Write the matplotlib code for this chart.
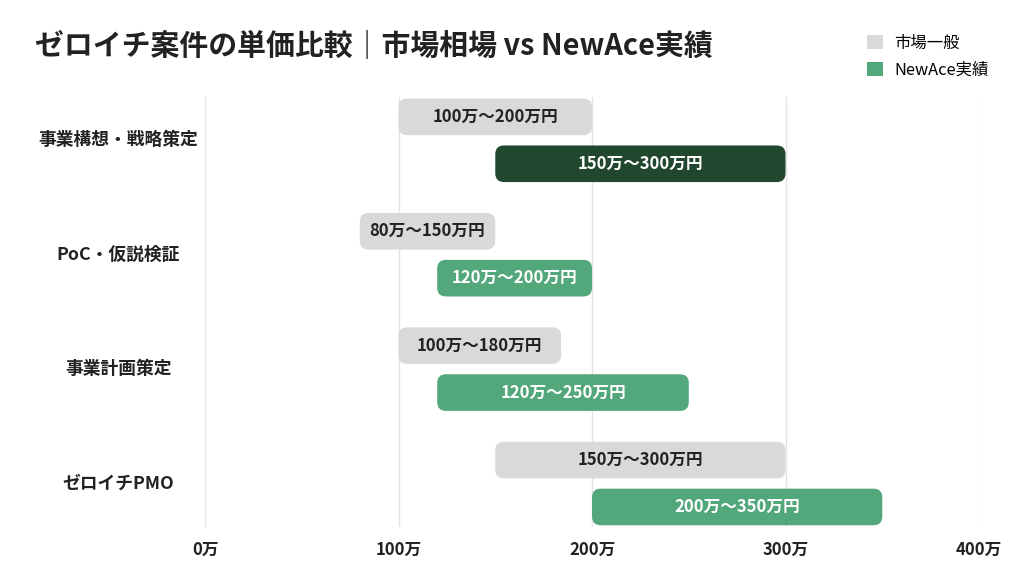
import matplotlib.pyplot as plt
from matplotlib.patches import FancyBboxPatch, Patch
from matplotlib.transforms import blended_transform_factory

plt.rcParams['font.family'] = ['Noto Sans CJK JP', 'DejaVu Sans']

categories = ['事業構想・戦略策定', 'PoC・仮説検証', '事業計画策定', 'ゼロイチPMO']
market_low = [100, 80, 100, 150]
market_high = [200, 150, 184, 300]
market_labels = ['100万〜200万円', '80万〜150万円', '100万〜180万円', '150万〜300万円']
newace_low = [150, 120, 120, 200]
newace_high = [300, 200, 250, 350]
newace_labels = ['150万〜300万円', '120万〜200万円', '120万〜250万円', '200万〜350万円']
xticks = [0, 100, 200, 300, 400]

GRAY = '#d9d9d9'
GREEN = '#52a77b'
DARK_GREEN = '#22472f'
highlight = 0  # first NewAce bar drawn in dark green

fig = plt.figure(figsize=(10.24, 5.72), dpi=100)
ax = fig.add_axes([0.2002, 0.0787, 0.7559, 0.752])
ax.set_xlim(0, 400)
ax.set_ylim(3.38, -0.38)

# px -> data unit ratio for rounded corners
x_per_px = 400 / 774
y_per_px = 3.76 / 430
aspect = y_per_px / x_per_px
bar_h = 0.32
off = 0.205


def rounded_bar(y, lo, hi, color):
    p = FancyBboxPatch((lo, y - bar_h / 2), hi - lo, bar_h,
                       boxstyle='round,pad=0,rounding_size=4.5',
                       mutation_aspect=aspect, fc=color, ec='none', zorder=3)
    ax.add_patch(p)


for i, cat in enumerate(categories):
    yg = i - off
    yn = i + off
    rounded_bar(yg, market_low[i], market_high[i], GRAY)
    ax.text((market_low[i] + market_high[i]) / 2, yg, market_labels[i],
            ha='center', va='center', fontsize=12, fontweight='bold',
            color='#222222', zorder=4)
    c = DARK_GREEN if i == highlight else GREEN
    rounded_bar(yn, newace_low[i], newace_high[i], c)
    ax.text((newace_low[i] + newace_high[i]) / 2, yn, newace_labels[i],
            ha='center', va='center', fontsize=12, fontweight='bold',
            color='white', zorder=4)

trans = blended_transform_factory(ax.transAxes, ax.transData)
for i, cat in enumerate(categories):
    ax.text(-0.112, i, cat, transform=trans, ha='center', va='center',
            fontsize=12.8, fontweight='bold', color='#222222')

ax.set_xticks(xticks)
ax.set_xticklabels([f'{v}万' for v in xticks], fontsize=12, fontweight='bold',
                   color='#222222')
ax.tick_params(axis='x', length=0, pad=10)
ax.set_yticks([])
ax.grid(axis='x', color='#e3e3e3', linewidth=1, zorder=0)
for s in ax.spines.values():
    s.set_visible(False)

fig.text(35 / 1024, 1 - 45 / 572, 'ゼロイチ案件の単価比較｜市場相場 vs NewAce実績',
         ha='left', va='center', fontsize=20.8, fontweight='bold', color='#222222')

handles = [Patch(fc=GRAY, ec='none', label='市場一般'),
           Patch(fc=GREEN, ec='none', label='NewAce実績')]
fig.legend(handles=handles, loc='upper left', bbox_to_anchor=(852 / 1024, 1 - 20 / 572),
           frameon=False, fontsize=11.8, handlelength=1.0, handleheight=1.0,
           handletextpad=0.7, labelspacing=0.6)

fig.savefig('out.png', dpi=100, facecolor='white')
